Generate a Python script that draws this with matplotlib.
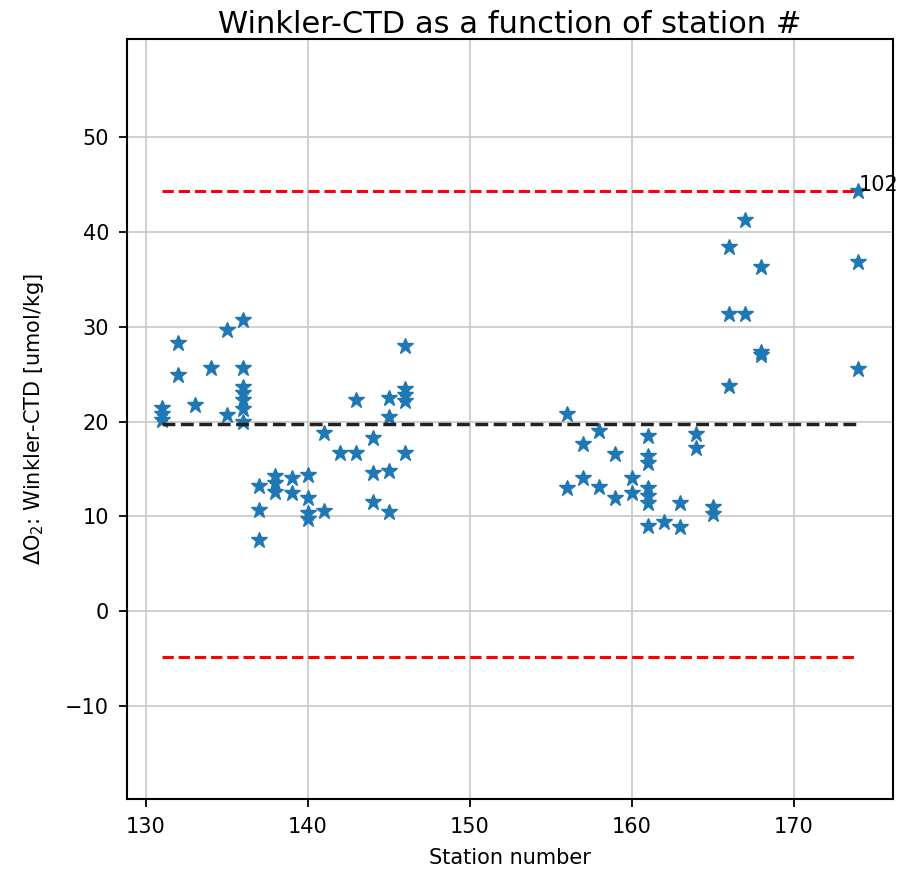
import numpy as np
import matplotlib
matplotlib.use("Agg")
import matplotlib.pyplot as plt

# station number and Winkler-CTD difference
station = [131, 131, 131, 132, 132, 133, 134, 135, 135,
           136, 136, 136, 136, 136, 136, 136,
           137, 137, 137, 138, 138, 138, 139, 139,
           140, 140, 140, 140, 141, 141, 142, 143, 143,
           144, 144, 144, 145, 145, 145, 145,
           146, 146, 146, 146, 146,
           156, 156, 157, 157, 158, 158, 159, 159, 160, 160,
           161, 161, 161, 161, 161, 161, 161,
           162, 163, 163, 164, 164, 165, 165,
           166, 166, 166, 167, 167, 168, 168, 168,
           174, 174, 174]
delta_o2 = [21.4, 20.8, 20.2, 28.3, 24.9, 21.7, 25.7, 29.7, 20.7,
            30.7, 25.7, 23.6, 23.0, 22.3, 21.3, 20.0,
            13.2, 10.7, 7.5, 14.3, 13.5, 12.6, 14.1, 12.5,
            14.4, 11.9, 10.4, 9.7, 18.8, 10.6, 16.7, 22.3, 16.7,
            18.3, 14.6, 11.5, 22.5, 20.5, 14.8, 10.5,
            28.0, 23.4, 22.8, 22.2, 16.7,
            20.8, 13.0, 17.6, 14.0, 19.0, 13.1, 16.6, 11.9, 14.0, 12.5,
            18.5, 16.4, 15.6, 13.0, 12.2, 11.4, 9.0,
            9.4, 11.4, 8.9, 18.7, 17.2, 11.0, 10.2,
            38.4, 31.3, 23.7, 41.3, 31.3, 36.3, 27.3, 27.0,
            44.3, 36.8, 25.5]

mean_level = 19.7
upper_level = 44.3
lower_level = -4.8
outlier_label = "102"

fig = plt.figure(figsize=(9.03, 8.77), dpi=100)
ax = fig.add_axes([0.141, 0.089, 0.848, 0.866])

ax.plot(station, delta_o2, '*', color='tab:blue', markersize=12)

x_span = [min(station), max(station)]
ax.plot(x_span, [mean_level] * 2, '--', color='#222222', linewidth=2.5)
ax.plot(x_span, [upper_level] * 2, '--', color='red', linewidth=2.2)
ax.plot(x_span, [lower_level] * 2, '--', color='red', linewidth=2.2)

i_max = int(np.argmax(delta_o2))
ax.annotate(outlier_label, (station[i_max], delta_o2[i_max]), fontsize=15)

ax.set_ylim(-19.8, 60.3)
ax.set_yticks([-10, 0, 10, 20, 30, 40, 50])
ax.set_xticks([130, 140, 150, 160, 170])
ax.grid(True, color='#c8c8c8', linewidth=1.2)
for sp in ax.spines.values():
    sp.set_linewidth(1.5)
ax.tick_params(labelsize=15, length=6, width=1.3, pad=7)
ax.set_xlabel("Station number", fontsize=15, labelpad=8)
ax.set_ylabel(r"$\Delta$O$_2$: Winkler-CTD [umol/kg]", fontsize=15, labelpad=14)
ax.set_title("Winkler-CTD as a function of station #", fontsize=22, pad=5)

fig.savefig("out.png", dpi=100)
